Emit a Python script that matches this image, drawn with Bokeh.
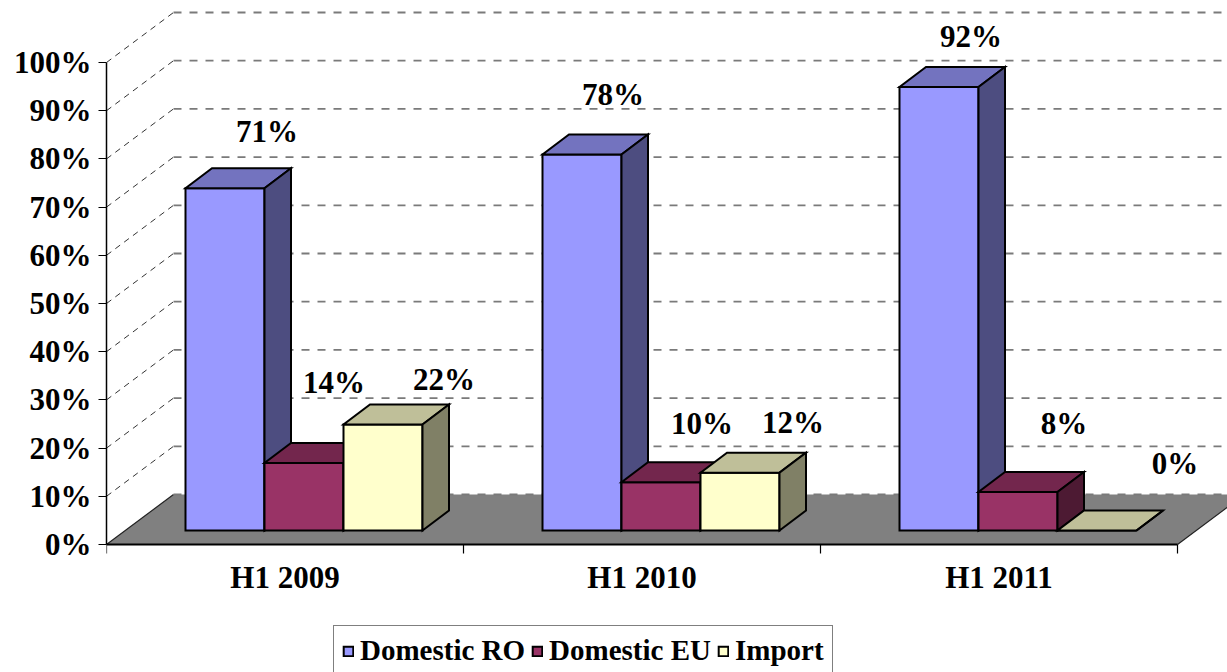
from bokeh.plotting import figure
from bokeh.models import Range1d, FixedTicker, Legend, LegendItem
from bokeh.core.properties import value
from bokeh.embed import file_html
from bokeh.resources import INLINE

# ---------------- data ----------------
categories = ["H1 2009", "H1 2010", "H1 2011"]
series_names = ["Domestic RO", "Domestic EU", "Import"]
domestic_ro = [71, 78, 92]
domestic_eu = [14, 10, 8]
import_share = [22, 12, 0]
y_ticks = [0, 10, 20, 30, 40, 50, 60, 70, 80, 90, 100]
y_tick_labels = ["0%", "10%", "20%", "30%", "40%", "50%", "60%", "70%", "80%", "90%", "100%"]

# ---------------- style ----------------
front_colors = ["#9999FF", "#993366", "#FFFFCC"]
top_colors = ["#7373BF", "#73264D", "#BFBF99"]
side_colors = ["#4D4D80", "#4D1A33", "#808066"]
FONT = "Liberation Serif"

PX_X = 357.0      # pixels per category
PX_Y = 4.82       # pixels per percent
WALL_DX, WALL_DY = 67 / PX_X, 50 / PX_Y
FRONT_DX, FRONT_DY = 19 / PX_X, 14 / PX_Y
BAR_DX, BAR_DY = 26.5 / PX_X, 20 / PX_Y
BAR_W = 79 / PX_X

# label nudges in pixels (dx right, dy up) relative to the bar's front-top centre
label_nudge_px = [
    [(42, 57), (31, 60), (32, 51)],
    [(30, 81), (41, 59), (46, 68)],
    [(61, 45), (53, 50), (78, 67)],
]

W, H = 1227, 672
LEFT = 106
BASE_Y = 544      # pixel row of the 0% line
x_end = (W - LEFT) / PX_X
y_top = BASE_Y / PX_Y
y_bot = -(H - BASE_Y) / PX_Y

p = figure(width=W, height=H, output_backend="svg", toolbar_location=None,
           x_range=Range1d(0, x_end), y_range=Range1d(y_bot, y_top),
           x_axis_location=None, title=None,
           min_border_left=LEFT, min_border_right=0, min_border_top=0, min_border_bottom=0)
p.outline_line_color = None
p.xgrid.visible = False
p.ygrid.visible = False
p.background_fill_color = "white"
p.border_fill_color = "white"

yax = p.yaxis[0]
yax.ticker = FixedTicker(ticks=y_ticks, minor_ticks=[])
yax.major_label_overrides = {t: l for t, l in zip(y_ticks, y_tick_labels)}
yax.bounds = (0, 100)
yax.axis_line_color = "black"
yax.axis_line_width = 1.5
yax.major_tick_out = 8
yax.major_tick_in = 0
yax.major_tick_line_color = "black"
yax.minor_tick_line_color = None
yax.major_label_standoff = 7
yax.major_label_text_font = FONT
yax.major_label_text_font_style = "bold"
yax.major_label_text_font_size = "31px"
yax.major_label_text_color = "black"

ncat = len(categories)

# floor
p.patch([0, ncat, ncat + WALL_DX, WALL_DX], [0, 0, WALL_DY, WALL_DY],
        fill_color="#808080", line_color=None)
p.line([0, WALL_DX], [0, WALL_DY], line_color="#222222", line_width=1.2)
p.line([ncat, ncat + WALL_DX], [0, WALL_DY], line_color="#222222", line_width=1.2)
p.line([0, ncat], [0, 0], line_color="black", line_width=2)

# gridlines (side wall diagonals + back wall horizontals)
diag_xs, diag_ys, hor_xs, hor_ys = [], [], [], []
for t in y_ticks:
    if t > 0:
        diag_xs.append([0, WALL_DX])
        diag_ys.append([t, t + WALL_DY])
    hor_xs.append([WALL_DX, x_end + 0.5])
    hor_ys.append([t + WALL_DY, t + WALL_DY])
p.multi_line(diag_xs, diag_ys, line_color="#333333", line_width=1, line_dash="6 5")
p.multi_line(hor_xs, hor_ys, line_color="#7A7A7A", line_width=1.8, line_dash="8 8")

# category tick marks
tick_len = 9 / PX_Y
p.segment(x0=list(range(ncat + 1)), y0=[0] * (ncat + 1),
          x1=list(range(ncat + 1)), y1=[-tick_len] * (ncat + 1),
          line_color="black", line_width=1.2)

# bars
values = [domestic_ro, domestic_eu, import_share]
front_renderers = []
lab_x, lab_y, lab_t = [], [], []
for s, vals in enumerate(values):
    lefts, rights, bottoms, tops = [], [], [], []
    top_xs, top_ys, side_xs, side_ys = [], [], [], []
    for k, v in enumerate(vals):
        x0 = k + 0.5 + FRONT_DX - 1.5 * BAR_W + s * BAR_W
        x1 = x0 + BAR_W
        y0 = FRONT_DY
        y1 = FRONT_DY + v
        lefts.append(x0); rights.append(x1); bottoms.append(y0); tops.append(y1)
        top_xs.append([x0, x1, x1 + BAR_DX, x0 + BAR_DX])
        top_ys.append([y1, y1, y1 + BAR_DY, y1 + BAR_DY])
        side_xs.append([x1, x1 + BAR_DX, x1 + BAR_DX, x1])
        side_ys.append([y0, y0 + BAR_DY, y1 + BAR_DY, y1])
        ndx, ndy = label_nudge_px[s][k]
        lab_x.append((x0 + x1) / 2 + ndx / PX_X)
        lab_y.append(y1 + ndy / PX_Y)
        lab_t.append(f"{v}%")
    r = p.quad(left=lefts, right=rights, bottom=bottoms, top=tops,
               fill_color=front_colors[s], line_color="black", line_width=2,
               line_join="miter")
    front_renderers.append(r)
    p.patches(top_xs, top_ys, fill_color=top_colors[s], line_color="black",
              line_width=2, line_join="miter")
    p.patches(side_xs, side_ys, fill_color=side_colors[s], line_color="black",
              line_width=2, line_join="miter")

# value labels
p.text(x=lab_x, y=lab_y, text=lab_t, text_font=value(FONT), text_font_style="bold",
       text_font_size="31px", text_align="center", text_baseline="middle",
       text_color="black")

# category labels
p.text(x=[k + 0.5 for k in range(ncat)], y=[-33 / PX_Y] * ncat, text=categories,
       text_font=value(FONT), text_font_style="bold", text_font_size="31px",
       text_align="center", text_baseline="middle", text_color="black")

legend = Legend(items=[LegendItem(label=n, renderers=[r])
                       for n, r in zip(series_names, front_renderers)],
                orientation="horizontal", location=(227, -4),
                label_text_font=FONT, label_text_font_style="bold",
                label_text_font_size="29px", label_text_color="black",
                glyph_width=12, glyph_height=12, label_standoff=6, spacing=6,
                padding=8, margin=0, border_line_color="black",
                border_line_width=1, background_fill_color="white",
                background_fill_alpha=1.0)
p.add_layout(legend)

open("out.html", "w").write(file_html(p, INLINE))
